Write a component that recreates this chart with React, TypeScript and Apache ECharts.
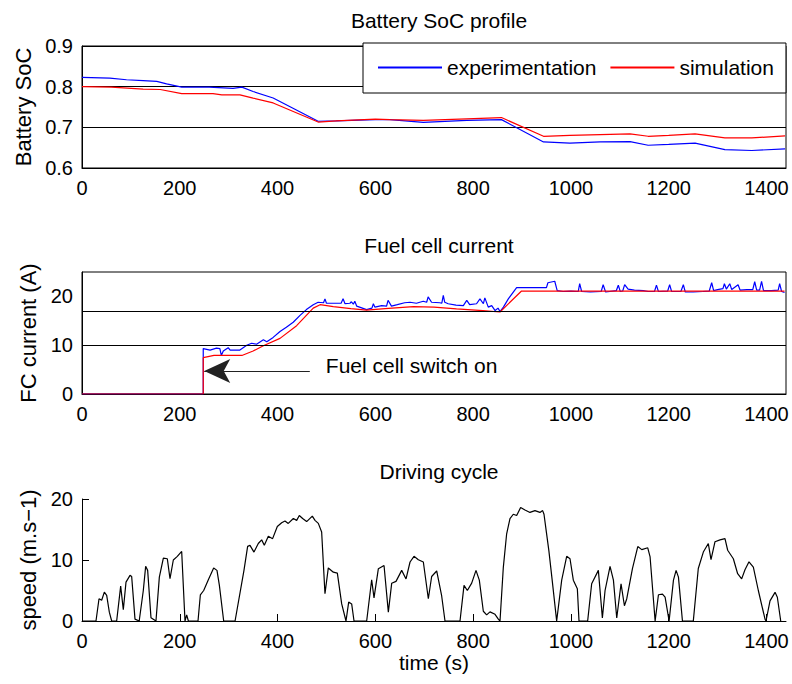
import React, { useEffect, useRef } from 'react';
import * as echarts from 'echarts';

const FONT = '"Liberation Sans", Arial, Helvetica, sans-serif';

const titles = ['Battery SoC profile', 'Fuel cell current', 'Driving cycle'];
const legendNames = ['experimentation', 'simulation'];
const xTickValues = [0, 200, 400, 600, 800, 1000, 1200, 1400];
const socTicks = [0.6, 0.7, 0.8, 0.9];
const fcGridLines = [10, 17];
const annotationText = 'Fuel cell switch on';
const arrowFrom: [number, number] = [466, 4.7];
const arrowTo: [number, number] = [250, 4.7];
const annotationAnchor: [number, number] = [466, 5.9];

const socExperiment: [number, number][] = [
  [0, 0.823], [57, 0.821], [91, 0.817], [125, 0.815], [153, 0.813], [173, 0.807], [204, 0.799],
  [260, 0.799], [309, 0.796], [327, 0.799], [350, 0.788], [391, 0.772], [483, 0.715], [520, 0.716],
  [600, 0.719], [630, 0.719], [698, 0.712], [787, 0.717], [858, 0.719], [944, 0.664], [998, 0.661],
  [1060, 0.664], [1121, 0.665], [1158, 0.656], [1200, 0.658], [1254, 0.661], [1315, 0.645],
  [1370, 0.643], [1438, 0.647],
];

const socSimulation: [number, number][] = [
  [0, 0.8], [60, 0.799], [125, 0.794], [160, 0.793], [204, 0.783], [268, 0.783], [286, 0.78],
  [323, 0.78], [350, 0.772], [391, 0.76], [483, 0.713], [520, 0.716], [600, 0.72], [630, 0.719],
  [698, 0.717], [787, 0.721], [858, 0.724], [944, 0.678], [998, 0.68], [1060, 0.682], [1121, 0.684],
  [1158, 0.678], [1200, 0.68], [1254, 0.684], [1315, 0.674], [1370, 0.674], [1438, 0.679],
];

const fcExperiment: [number, number][] = [
  [0, 0], [248, 0], [248, 9.3], [262, 9.0], [275, 9.4], [282, 9.3], [285, 7.9], [289, 8.8], [299, 9.5],
  [303, 9.0], [323, 9.0], [337, 10.0], [347, 10.4], [357, 10.2], [371, 11.1], [378, 10.7], [391, 11.6],
  [405, 12.8], [418, 13.7], [432, 14.7], [446, 16.1], [459, 17.3], [473, 18.3], [483, 18.8], [494, 18.7],
  [497, 19.5], [500, 18.6], [514, 18.6], [530, 18.6], [534, 19.5], [538, 18.5], [548, 18.6], [551, 18.9],
  [555, 18.4], [558, 19.0], [562, 18.0], [582, 17.3], [593, 17.6], [596, 18.5], [599, 17.8], [613, 18.1],
  [623, 18.0], [626, 19.2], [633, 18.0], [645, 18.3], [660, 18.7], [671, 18.8], [684, 18.6], [698, 19.0],
  [705, 18.8], [708, 19.9], [715, 18.8], [732, 18.7], [736, 18.6], [739, 20.2], [742, 18.8], [749, 18.5],
  [765, 18.2], [780, 18.1], [787, 19.2], [793, 18.3], [807, 18.5], [814, 19.5], [821, 18.5], [824, 19.7],
  [831, 17.8], [838, 18.1], [845, 17.1], [851, 17.6], [855, 16.9], [862, 17.8], [872, 19.5], [889, 21.8],
  [950, 21.8], [953, 22.8], [967, 23.1], [972, 21.2], [984, 21.0], [1000, 21.1], [1015, 21.0],
  [1018, 22.6], [1022, 21.0], [1040, 20.9], [1062, 21.0], [1066, 22.4], [1071, 20.9], [1093, 21.2],
  [1097, 22.3], [1101, 21.0], [1106, 21.1], [1110, 22.4], [1117, 21.5], [1130, 21.3], [1148, 21.2],
  [1158, 21.0], [1171, 21.0], [1175, 22.3], [1179, 21.0], [1198, 21.1], [1202, 22.4], [1206, 21.0],
  [1225, 21.0], [1230, 22.4], [1234, 20.9], [1250, 20.9], [1270, 21.0], [1283, 21.1], [1288, 22.8],
  [1292, 21.2], [1300, 21.4], [1311, 21.6], [1314, 22.6], [1318, 21.5], [1325, 22.6], [1329, 21.4],
  [1342, 22.4], [1346, 21.3], [1360, 21.4], [1372, 21.4], [1376, 23.0], [1380, 21.3], [1386, 21.3],
  [1390, 23.1], [1394, 21.2], [1410, 21.2], [1424, 21.3], [1427, 22.6], [1431, 21.0], [1437, 20.8],
];

const fcSimulation: [number, number][] = [
  [0, 0], [248, 0], [248, 7.45], [270, 7.9], [327, 7.9], [350, 8.8], [371, 9.9], [405, 11.4], [439, 14.0],
  [473, 17.6], [487, 18.3], [514, 17.9], [550, 17.5], [582, 17.2], [620, 17.5], [678, 17.9], [720, 17.8],
  [766, 17.45], [820, 17.1], [855, 16.8], [899, 21.1], [1437, 21.1],
];

const speed: [number, number][] = [
  [0, 0], [28.6, 0], [34.8, 3.65], [40.2, 3.4], [45.7, 4.73], [50.5, 4.2], [55.9, 1.45], [60.7, 0],
  [70.9, 0], [79.1, 5.72], [84.5, 1.84], [90, 6.38], [98.2, 7.48], [101.6, 7.3], [108.4, 0.3], [117, 0],
  [125.4, 5.0], [130.2, 8.96], [134.3, 8.3], [141.1, 0.55], [151.3, 0], [158.2, 7.2], [166.4, 10.3],
  [174.5, 10.2], [180, 6.93], [186.8, 10.0], [195, 10.6], [203.9, 11.4], [210.7, 0], [214.1, 0.99],
  [217.6, 0], [237.3, 0], [242.1, 4.3], [248.9, 5.0], [259.1, 6.9], [269.3, 8.68], [276.1, 8.3],
  [281, 5.83], [289.8, 0], [313.1, 0], [331.3, 8.3], [338.8, 12.24], [343.6, 12.4], [351.8, 11.3],
  [360.6, 12.7], [367.5, 13.3], [372.9, 12.4], [381.1, 13.9], [389.9, 13.5], [399.5, 15.5], [408.4, 16.1],
  [415.2, 16.4], [421.9, 16.0], [432.3, 16.8], [439.1, 16.5], [444.5, 17.3], [451.3, 16.8], [459.5, 16.3],
  [471.1, 17.2], [476.6, 16.5], [483.4, 16.0], [490.2, 14.6], [497, 4.47], [503.8, 8.7], [514.1, 8.0],
  [522.3, 7.85], [531.2, 2.8], [540, 0], [545.5, 3.1], [551.6, 2.8], [556.4, 0], [582.3, 0], [592.5, 6.76],
  [597.3, 3.8], [606.2, 8.58], [617.8, 9.1], [626.6, 1.45], [633.5, 6.2], [642.3, 6.5], [653.9, 8.3],
  [662.8, 6.9], [671, 9.67], [679.1, 10.6], [688, 10.05], [698.2, 9.67], [708.4, 3.65], [715.2, 7.3],
  [725.5, 8.2], [735.7, 4.1], [742.5, 0], [773.2, 0], [781.4, 5.85], [788.2, 5.0], [797.1, 6.2],
  [805.9, 8.3], [812.7, 6.7], [820.9, 1.6], [827.7, 1.0], [834.5, 1.5], [844.8, 1.1], [851.6, 0.3],
  [855, 0], [861.8, 8.8], [868.6, 14.3], [875.4, 16.8], [882.2, 17.5], [889.1, 17.3], [897.2, 18.6],
  [906.1, 18.2], [916.3, 17.8], [926.5, 18.1], [936.7, 17.8], [942.2, 18.1], [945, 17.5], [950, 14.5],
  [955, 11.5], [962, 6.5], [970.9, 0], [981.2, 6.7], [991.4, 10.6], [998.2, 10.2], [1005, 6.7],
  [1013.2, 5.3], [1016.6, 0], [1034.3, 0], [1042.5, 6.1], [1056.2, 8.3], [1064.4, 0.5], [1069.9, 5.0],
  [1080.1, 8.96], [1087, 6.7], [1093.8, 0.5], [1102.6, 6.1], [1109.5, 2.5], [1114.3, 3.65], [1125.9, 8.6],
  [1136.8, 12.2], [1145, 11.7], [1157.2, 12.0], [1162, 10.5], [1172.3, 0], [1179.1, 4.3], [1187.3, 4.4],
  [1192.7, 3.9], [1200.9, 0], [1209.8, 6.7], [1215.2, 8.3], [1220, 7.2], [1228.2, 0], [1250.4, 0],
  [1260.6, 8.6], [1270.9, 11.3], [1281.1, 12.7], [1286.6, 10.05], [1294.8, 13.0], [1305, 13.3],
  [1315.2, 13.5], [1320.7, 11.6], [1332.3, 10.2], [1341.1, 7.75], [1349.3, 6.9], [1356.1, 8.4],
  [1364.3, 9.7], [1373.2, 8.85], [1383.4, 5.0], [1397.1, 0.3], [1399.1, 0], [1407.3, 3.3], [1417.6, 4.7],
  [1422.3, 3.9], [1429.2, 0],
];

const BLUE = '#0000ff';
const RED = '#ff0000';
const BLACK = '#000000';

function xAxisFor(gridIndex: number, withTicks: boolean, name?: string) {
  return {
    type: 'value',
    gridIndex,
    min: 0,
    max: 1440,
    interval: 200,
    name: name || '',
    nameLocation: 'middle',
    nameGap: 28,
    nameTextStyle: { fontSize: 21, color: BLACK, fontFamily: FONT },
    axisLine: { show: true, lineStyle: { color: BLACK, width: 1 } },
    axisTick: withTicks
      ? { show: true, inside: true, length: 7, customValues: xTickValues, lineStyle: { color: BLACK } }
      : { show: false },
    splitLine: { show: false },
    axisLabel: {
      fontSize: 20,
      color: BLACK,
      fontFamily: FONT,
      margin: 10,
      formatter: (v: number) => (xTickValues.indexOf(v) >= 0 ? String(v) : ''),
    },
  };
}

export default function App() {
  const ref = useRef<HTMLDivElement>(null);

  useEffect(() => {
    if (!ref.current) return;
    const chart = echarts.init(ref.current, undefined, { renderer: 'svg' });
    const lineBase = { type: 'line', showSymbol: false, symbol: 'none', clip: true };

    const option: any = {
      animation: false,
      backgroundColor: '#ffffff',
      textStyle: { fontFamily: FONT },
      title: [
        { text: titles[0], left: 434, top: 5, textAlign: 'center' },
        { text: titles[1], left: 434, top: 230, textAlign: 'center' },
        { text: titles[2], left: 434, top: 456, textAlign: 'center' },
      ].map((t) => ({
        ...t,
        textStyle: { fontSize: 21, fontWeight: 'normal', color: BLACK, fontFamily: FONT },
      })),
      legend: {
        data: legendNames,
        left: 363,
        top: 43,
        orient: 'horizontal',
        itemWidth: 64,
        itemHeight: 14,
        itemGap: 13,
        padding: [14, 12, 15, 14],
        backgroundColor: '#ffffff',
        borderColor: BLACK,
        borderWidth: 1,
        borderRadius: 0,
        selectedMode: false,
        z: 10,
        itemStyle: { opacity: 0, borderWidth: 0 },
        textStyle: { fontSize: 21, color: BLACK, fontFamily: FONT },
      },
      grid: [
        { left: 82, top: 46, width: 704, height: 122, show: true, borderColor: BLACK, borderWidth: 1, backgroundColor: 'transparent' },
        { left: 82, top: 272, width: 704, height: 122, show: true, borderColor: BLACK, borderWidth: 1, backgroundColor: 'transparent' },
        { left: 82, top: 499, width: 704, height: 122 },
      ],
      xAxis: [xAxisFor(0, false), xAxisFor(1, false), xAxisFor(2, true, 'time (s)')],
      yAxis: [
        {
          type: 'value',
          gridIndex: 0,
          min: 0.6,
          max: 0.9,
          interval: 0.1,
          name: 'Battery SoC',
          nameLocation: 'middle',
          nameGap: 47,
          nameTextStyle: { fontSize: 22, color: BLACK, fontFamily: FONT },
          axisLine: { show: true, lineStyle: { color: BLACK } },
          axisTick: { show: false },
          splitLine: { show: true, lineStyle: { color: BLACK, width: 1 } },
          axisLabel: {
            fontSize: 20,
            color: BLACK,
            fontFamily: FONT,
            margin: 9,
            formatter: (v: number) => {
              const r = Math.round(v * 10) / 10;
              return socTicks.indexOf(r) >= 0 ? r.toFixed(1) : '';
            },
          },
        },
        {
          type: 'value',
          gridIndex: 1,
          min: 0,
          max: 25,
          interval: 10,
          name: 'FC current (A)',
          nameLocation: 'middle',
          nameGap: 40,
          nameTextStyle: { fontSize: 22, color: BLACK, fontFamily: FONT },
          axisLine: { show: true, lineStyle: { color: BLACK } },
          axisTick: { show: false },
          splitLine: { show: false },
          axisLabel: {
            fontSize: 20,
            color: BLACK,
            fontFamily: FONT,
            margin: 9,
            formatter: (v: number) => (v % 10 === 0 ? String(v) : ''),
          },
        },
        {
          type: 'value',
          gridIndex: 2,
          min: 0,
          max: 20,
          interval: 10,
          name: 'speed (m.s\u22121)',
          nameLocation: 'middle',
          nameGap: 39,
          nameTextStyle: { fontSize: 22, color: BLACK, fontFamily: FONT },
          axisLine: { show: true, lineStyle: { color: BLACK } },
          axisTick: { show: true, inside: true, length: 7, lineStyle: { color: BLACK } },
          splitLine: { show: false },
          axisLabel: { fontSize: 20, color: BLACK, fontFamily: FONT, margin: 9 },
        },
      ],
      series: [
        {
          ...lineBase,
          name: legendNames[0],
          xAxisIndex: 0,
          yAxisIndex: 0,
          data: socExperiment,
          lineStyle: { color: BLUE, width: 1.2 },
          itemStyle: { color: BLUE },
        },
        {
          ...lineBase,
          name: legendNames[1],
          xAxisIndex: 0,
          yAxisIndex: 0,
          data: socSimulation,
          lineStyle: { color: RED, width: 1.2 },
          itemStyle: { color: RED },
        },
        {
          ...lineBase,
          name: legendNames[0],
          xAxisIndex: 1,
          yAxisIndex: 1,
          data: fcExperiment,
          lineStyle: { color: BLUE, width: 1.2 },
          itemStyle: { color: BLUE },
          markLine: {
            silent: true,
            animation: false,
            symbol: 'none',
            lineStyle: { color: BLACK, width: 1, type: 'solid' },
            label: { show: false },
            emphasis: { disabled: true },
            data: [
              ...fcGridLines.map((y) => ({ yAxis: y })),
              [
                { coord: arrowFrom, symbol: 'none', lineStyle: { color: '#222', width: 1, type: 'solid' } },
                { coord: arrowTo, symbol: 'arrow', symbolSize: [18, 26] },
              ],
            ],
          },
          markPoint: {
            silent: true,
            animation: false,
            symbol: 'circle',
            symbolSize: 0,
            itemStyle: { color: 'transparent' },
            label: {
              show: true,
              position: 'right',
              distance: 16,
              formatter: annotationText,
              fontSize: 21,
              color: BLACK,
              fontFamily: FONT,
            },
            data: [{ coord: annotationAnchor }],
          },
        },
        {
          ...lineBase,
          name: legendNames[1],
          xAxisIndex: 1,
          yAxisIndex: 1,
          data: fcSimulation,
          lineStyle: { color: RED, width: 1.2 },
          itemStyle: { color: RED },
        },
        {
          ...lineBase,
          name: 'speed',
          xAxisIndex: 2,
          yAxisIndex: 2,
          data: speed,
          lineStyle: { color: BLACK, width: 1.2 },
          itemStyle: { color: BLACK },
        },
      ],
    };

    chart.setOption(option);
    return () => {
      chart.dispose();
    };
  }, []);

  return (
    <div
      ref={ref}
      style={{ position: 'absolute', left: 0, top: 0, width: 792, height: 684, background: '#ffffff' }}
    />
  );
}
